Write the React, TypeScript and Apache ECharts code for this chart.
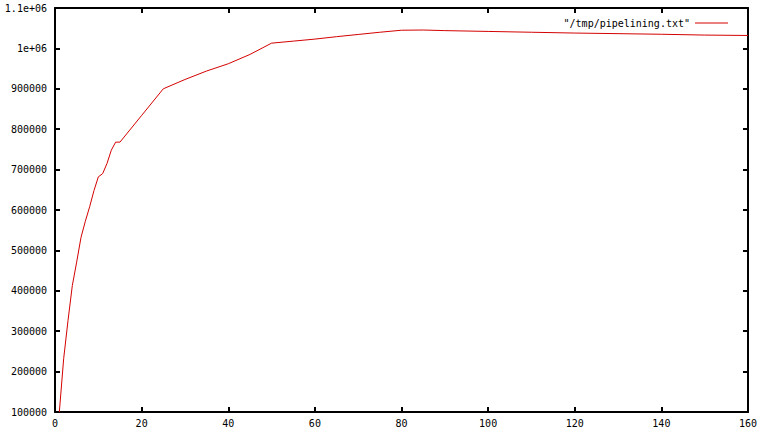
import React, { useEffect, useRef } from "react";
import * as echarts from "echarts";

const seriesName = '"/tmp/pipelining.txt"';

// pipelining depth (x) and requests/s (y)
const depths = [
  1, 2, 3, 4, 5, 6, 7, 8, 9, 10, 11, 12, 13, 14, 15, 20, 25, 30, 35, 40, 45,
  50, 55, 60, 65, 70, 75, 80, 85, 90, 100, 110, 120, 130, 140, 150, 160,
];
const throughput = [
  100000, 232000, 326000, 413000, 471000, 532000, 572000, 608000, 648000,
  682000, 690000, 715000, 748000, 768000, 768000, 834000, 900000, 923000,
  944000, 962000, 985000, 1013000, 1018000, 1023000, 1029000, 1034500,
  1040000, 1045000, 1045500, 1044000, 1042000, 1040000, 1038000, 1036500,
  1035000, 1033000, 1032000,
];

const xTicks = { min: 0, max: 160, interval: 20 };
const yTicks = { min: 100000, max: 1100000, interval: 100000 };

const fontFamily = "'DejaVu Sans Mono', monospace";
const red = "#d40000";

const formatY = (v: number) => {
  if (v >= 1000000) {
    const m = v / 1000000;
    return (Number.isInteger(m) ? String(m) : m.toFixed(1)) + "e+06";
  }
  return String(v);
};

const PipeliningChart: React.FC = () => {
  const chartRef = useRef<HTMLDivElement>(null);

  useEffect(() => {
    if (!chartRef.current) return;
    const chart = echarts.init(chartRef.current, undefined, { renderer: "svg" });

    const axisLine = { show: true, onZero: false, lineStyle: { color: "#000", width: 2 } };
    const axisTick = { show: true, inside: true, length: 5, lineStyle: { color: "#000", width: 2 } };

    const option: echarts.EChartsOption = {
      animation: false,
      backgroundColor: "#fff",
      grid: { left: 55, right: 15, top: 8, bottom: 23 },
      legend: {
        right: 30,
        top: 13,
        align: "right",
        icon: "rect",
        itemWidth: 33,
        itemHeight: 1,
        itemGap: 5,
        textStyle: { fontFamily, fontSize: 10, color: "#000" },
        data: [seriesName],
      },
      xAxis: [
        {
          type: "value",
          ...xTicks,
          position: "bottom",
          axisLine,
          axisTick,
          splitLine: { show: false },
          axisLabel: { fontFamily, fontSize: 10, color: "#000", margin: 6 },
        },
        {
          type: "value",
          ...xTicks,
          position: "top",
          axisLine,
          axisTick,
          splitLine: { show: false },
          axisLabel: { show: false },
        },
      ],
      yAxis: [
        {
          type: "value",
          ...yTicks,
          position: "left",
          axisLine,
          axisTick,
          splitLine: { show: false },
          axisLabel: { fontFamily, fontSize: 10, color: "#000", margin: 8, formatter: formatY },
        },
        {
          type: "value",
          ...yTicks,
          position: "right",
          axisLine,
          axisTick,
          splitLine: { show: false },
          axisLabel: { show: false },
        },
      ],
      series: [
        {
          name: seriesName,
          type: "line",
          symbol: "none",
          clip: true,
          lineStyle: { color: red, width: 1 },
          itemStyle: { color: red },
          data: depths.map((d, i) => [d, throughput[i]]),
        },
      ],
    };

    chart.setOption(option);
    return () => {
      chart.dispose();
    };
  }, []);

  return (
    <div
      ref={chartRef}
      style={{ position: "fixed", left: 0, top: 0, width: "763px", height: "435px" }}
    />
  );
};

export default function App() {
  return <PipeliningChart />;
}
